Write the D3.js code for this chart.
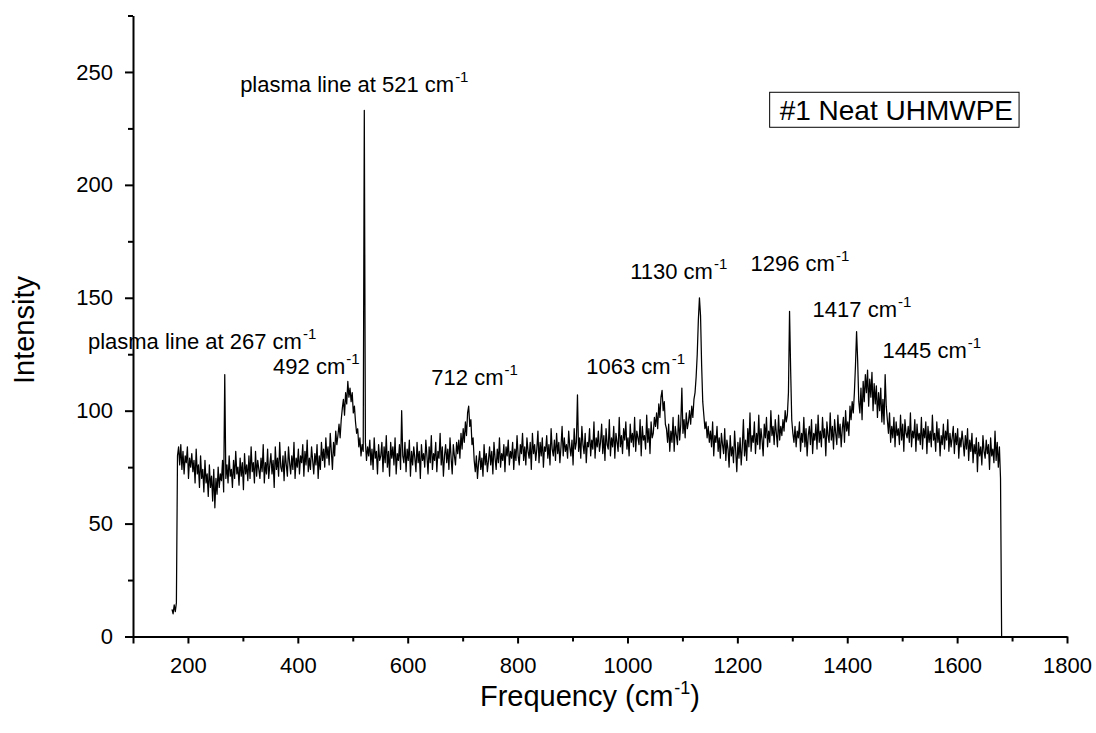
<!DOCTYPE html>
<html>
  <head><title>#1 Neat UHMWPE Raman spectrum</title></head>
<body style="margin:0;background:#fff">
  <style>
    body { font-family: "Liberation Sans", Arial, Helvetica, sans-serif; }
    text { font-family: "Liberation Sans", Arial, Helvetica, sans-serif; fill: #000; }
    .axis path, .axis line { stroke: #000; stroke-width: 2; }
    .axis text { font-size: 22px; }
  </style>

  <svg id="chart"></svg>

  <script src="https://d3js.org/d3.v7.min.js"></script>
  <script>

let freqStart = 171;
let freqStep = 2;
let intensity = [
  12,10,14,11,15,80,84,76,85,74,      // 171
  82,72,80,77,84,70,79,75,81,73,      // 191
  78,68,83,72,76,66,80,70,74,64,      // 211
  78,68,72,62,76,66,71,60,74,57,      // 231
  70,63,75,66,72,69,78,64,116,70,     // 251
  76,68,80,71,74,66,78,70,82,72,      // 271
  75,67,79,71,77,65,81,72,76,69,      // 291
  80,70,84,73,77,68,82,71,78,74,      // 311
  70,79,73,85,68,77,72,83,70,76,      // 331
  81,72,78,66,84,74,79,71,86,75,      // 351
  73,80,69,82,76,71,84,77,72,80,      // 371
  74,86,70,79,75,83,72,80,77,85,      // 391
  71,82,76,87,73,79,74,84,78,72,      // 411
  81,76,85,70,80,74,86,78,83,75,      // 431
  88,79,84,76,90,82,74,86,80,91,      // 451
  85,89,94,88,96,101,105,98,108,103,  // 471
  113,106,110,104,108,99,102,95,90,92,// 491
  84,88,80,85,82,233,86,78,84,80,     // 511
  87,76,83,74,88,79,82,72,85,78,      // 531
  80,86,73,84,77,89,75,82,71,86,      // 551
  79,84,76,88,72,81,78,85,74,100,     // 571
  80,77,86,73,83,78,87,71,82,76,      // 591
  84,79,73,86,77,82,70,85,78,81,      // 611
  75,87,80,72,84,77,89,74,81,78,      // 631
  86,73,82,79,90,76,84,71,80,85,      // 651
  77,83,74,88,79,72,85,80,76,86,      // 671
  81,87,79,90,83,92,86,95,89,99,      // 691
  102,93,96,85,88,78,73,80,70,77,     // 711
  82,74,79,71,85,76,81,73,78,84,      // 731
  76,82,72,86,79,74,83,77,88,75,      // 751
  81,78,85,73,84,80,87,76,82,79,      // 771
  86,74,83,78,89,80,76,85,81,90,      // 791
  78,84,76,88,82,79,86,74,90,81,      // 811
  85,78,83,91,77,86,80,88,75,84,      // 831
  82,89,79,85,76,92,83,80,87,78,      // 851
  90,81,86,77,84,93,80,88,82,85,      // 871
  79,91,84,80,87,76,92,83,86,107,     // 891
  82,88,79,93,85,81,90,77,86,84,      // 911
  92,80,87,83,95,79,88,84,91,82,      // 931
  86,94,81,89,78,92,85,83,96,80,      // 951
  88,84,93,79,90,86,82,97,84,89,      // 971
  81,92,87,95,83,88,80,94,86,90,      // 991
  84,97,82,91,88,85,96,80,93,87,      // 1011
  89,83,98,86,92,81,95,88,90,97,      // 1031
  93,99,92,103,97,106,109,100,104,94, // 1051
  92,86,94,82,91,86,97,82,93,89,      // 1071
  85,98,87,94,110,90,96,88,99,92,     // 1091
  95,100,94,102,97,105,108,115,125,140, // 1111
  150,142,120,104,98,92,95,88,93,86,  // 1131
  91,84,95,80,89,86,93,82,88,79,      // 1151
  90,85,81,92,78,87,83,75,89,80,      // 1171
  84,77,91,82,73,86,79,88,76,84,      // 1191
  96,80,87,78,92,84,99,82,89,86,      // 1211
  95,81,90,85,98,83,92,87,80,94,      // 1231
  88,97,84,91,86,100,89,93,85,96,     // 1251
  90,84,98,87,93,89,96,91,100,95,     // 1271
  98,108,144,118,96,90,86,93,84,91,   // 1291
  88,95,82,90,86,97,84,92,80,89,      // 1311
  93,85,96,81,90,87,94,83,98,86,      // 1331
  91,84,97,88,92,80,95,89,86,99,      // 1351
  87,93,83,96,90,85,98,88,94,84,      // 1371
  92,97,86,100,91,95,89,102,96,104,   // 1391
  99,108,120,135,122,104,99,110,96,113, // 1411
  104,116,108,118,102,114,106,117,100,112, // 1431
  103,111,97,108,100,110,95,105,94,116,  // 1451
  102,96,90,99,86,93,88,97,84,95,     // 1471
  89,92,85,98,87,94,82,96,90,88,      // 1491
  93,86,99,84,91,88,96,82,94,87,      // 1511
  90,85,97,83,92,88,95,81,93,86,      // 1531
  91,84,98,87,90,82,95,86,92,80,      // 1551
  89,85,94,83,91,87,96,82,90,84,      // 1571
  88,93,81,90,85,92,79,88,84,91,      // 1591
  86,80,89,83,92,78,87,82,90,77,      // 1611
  85,81,88,73,86,80,84,76,89,82,      // 1631
  79,87,81,85,74,88,80,83,77,91,      // 1651
  78,86,75,84,70,0                    // 1671
];

// axis ticks
let xMajor = [200, 400, 600, 800, 1000, 1200, 1400, 1600, 1800];
let xMinor = [100, 300, 500, 700, 900, 1100, 1300, 1500, 1700];
let yMajor = [0, 50, 100, 150, 200, 250];
let yMinor = [25, 75, 125, 175, 225, 275];

// peak annotations: text, anchor frequency, anchor intensity (text start, baseline)
let noteText = ['plasma line at 521', 'plasma line at 267', '492', '712', '1063', '1130', '1296', '1417', '1445'];
let noteFreq = [295, 18, 355, 643, 925, 1005, 1224, 1337, 1464];
let noteInt  = [241, 127.3, 116.2, 111.3, 116.2, 158.3, 161.8, 141.4, 123.3];

let sampleName = '#1 Neat UHMWPE';

let width = 1096, height = 733;
let svg = d3.select('#chart').attr('width', width).attr('height', height);

let x = d3.scaleLinear().domain([100, 1800]).range([133, 1067]);
let y = d3.scaleLinear().domain([0, 275]).range([636.5, 15.5]);

function translate(a, b) { return 'translate(' + a + ',' + b + ')'; }

// spectrum line
let points = intensity.map((v, i) => [freqStart + i * freqStep, v]);
let line = d3.line().x(d => x(d[0])).y(d => y(d[1]));

svg.append('path')
  .datum(points)
  .attr('d', line)
  .attr('fill', 'none')
  .attr('stroke', '#000')
  .attr('stroke-width', 1.25)
  .attr('stroke-linejoin', 'round');

// axes
svg.append('g').attr('class', 'axis')
  .attr('transform', translate(0, y(0)))
  .call(d3.axisBottom(x).tickValues(xMinor).tickSize(5).tickSizeOuter(0).tickFormat(''))
  .call(g => g.selectAll('.tick').filter(d => d === 100).select('line').attr('y2', 7));

svg.append('g').attr('class', 'axis')
  .attr('transform', translate(0, y(0)))
  .call(d3.axisBottom(x).tickValues(xMajor).tickSize(7).tickPadding(14).tickSizeOuter(0).tickFormat(d3.format('d')))
  .call(g => g.select('.domain').remove());

svg.append('g').attr('class', 'axis')
  .attr('transform', translate(x(100), 0))
  .call(d3.axisLeft(y).tickValues(yMinor).tickSize(5).tickSizeOuter(0).tickFormat(''));

svg.append('g').attr('class', 'axis')
  .attr('transform', translate(x(100), 0))
  .call(d3.axisLeft(y).tickValues(yMajor).tickSize(8).tickPadding(12).tickSizeOuter(0).tickFormat(d3.format('d')))
  .call(g => g.select('.domain').remove());

// axis titles
let xt = svg.append('text')
  .attr('text-anchor', 'middle')
  .attr('transform', translate(590, 706))
  .style('font-size', '29px');
xt.append('tspan').text('Frequency (cm');
xt.append('tspan').attr('dy', -12).attr('dx', 1).style('font-size', '18px').text('-1');
xt.append('tspan').attr('dy', 12).text(')');

svg.append('text')
  .attr('text-anchor', 'middle')
  .attr('transform', translate(34, 330) + ' rotate(-90)')
  .style('font-size', '29px')
  .text('Intensity');

// peak labels
noteText.forEach((t, i) => {
  let te = svg.append('text')
    .attr('x', x(noteFreq[i]))
    .attr('y', y(noteInt[i]))
    .style('font-size', '22px');
  te.append('tspan').text(t + ' cm');
  te.append('tspan').attr('dy', -10).attr('dx', 1).style('font-size', '15px').text('-1');
});

// sample name box
let box = svg.append('g').attr('transform', translate(x(1277), y(228.6)));
let bt = box.append('text').style('font-size', '28px').text(sampleName);
let bb = bt.node().getBBox();
box.insert('rect', 'text')
  .attr('x', bb.x - 10)
  .attr('y', bb.y - 3)
  .attr('width', bb.width + 16)
  .attr('height', bb.height + 4)
  .attr('fill', 'none')
  .attr('stroke', '#000')
  .attr('stroke-width', 1);

  </script>
</body>
</html>
